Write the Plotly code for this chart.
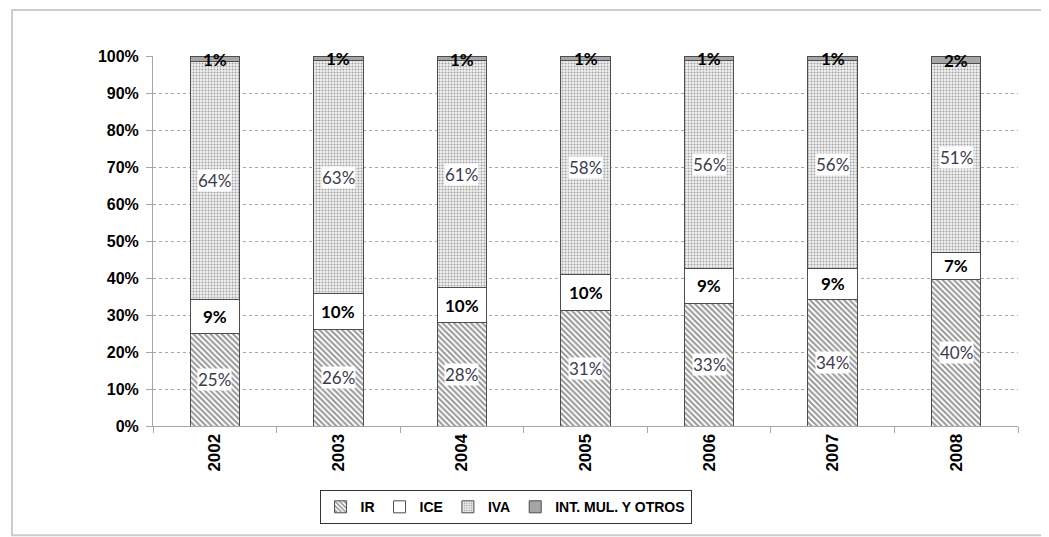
import plotly.graph_objects as go

# shares of tax revenue (%)
years = ["2002", "2003", "2004", "2005", "2006", "2007", "2008"]
ir = [24.9, 26.1, 27.9, 31.2, 33.2, 34.1, 39.6]
ice = [9.3, 9.6, 9.6, 9.7, 9.4, 8.6, 7.4]
iva = [64.4, 63.1, 61.2, 57.9, 56.2, 56.1, 51.1]
otros = [1.4, 1.2, 1.3, 1.2, 1.2, 1.2, 1.9]

names = ["IR", "ICE", "IVA", "INT. MUL. Y OTROS"]
series = [ir, ice, iva, otros]

grid = "#a6a6a6"
edge = "#4d4d4d"

fig = go.Figure()

# bars
fig.add_trace(go.Bar(x=years, y=ir, name=names[0],
                     marker=dict(color="white", line=dict(color=edge, width=1),
                                 pattern=dict(shape="\\", fgcolor="#2e2e2e", bgcolor="white",
                                              size=4, solidity=0.5))))
fig.add_trace(go.Bar(x=years, y=ice, name=names[1],
                     marker=dict(color="white", line=dict(color=edge, width=1))))
fig.add_trace(go.Bar(x=years, y=iva, name=names[2],
                     marker=dict(color="white", line=dict(color=edge, width=1),
                                 pattern=dict(shape=".", fgcolor="#555555", bgcolor="#f0f0f0",
                                              size=3, solidity=0.35))))
fig.add_trace(go.Bar(x=years, y=otros, name=names[3],
                     marker=dict(color="#a6a6a6", line=dict(color=edge, width=1))))

# labels: computed from the stacked values (x = category index)
annos = []
for i in range(len(years)):
    base = 0
    for k, vals in enumerate(series):
        v = vals[i]
        mid = base + v / 2
        txt = "%d%%" % round(v)
        if k in (0, 2):
            annos.append(dict(x=i, y=mid, text=txt, showarrow=False,
                              font=dict(family="Lato", size=17, color="#3b3b4b"),
                              bgcolor="white", borderpad=0))
        elif k == 1:
            annos.append(dict(x=i, y=mid, text=txt, showarrow=False,
                              font=dict(family="Lato", size=17, color="black", weight="bold")))
        else:
            annos.append(dict(x=i, y=base + v * 0.35, text=txt, showarrow=False,
                              font=dict(family="Lato", size=17, color="black", weight="bold")))
        base += v

fig.update_layout(
    width=1049, height=537,
    margin=dict(l=145, r=39, t=48, b=119),
    paper_bgcolor="white", plot_bgcolor="white",
    barmode="stack", bargap=0.6,
    annotations=annos,
    showlegend=True,
    legend=dict(orientation="h", traceorder="normal",
                xref="container", yref="container",
                x=0.297, xanchor="left", y=0.102, yanchor="top",
                bordercolor="#333333", borderwidth=1,
                font=dict(family="Liberation Sans", size=14, color="black", weight="bold"),
                itemwidth=30),
    xaxis=dict(type="category", range=[-0.5, len(years) - 0.5],
               showline=True, linecolor=grid, linewidth=1,
               ticks="outside", tickson="boundaries", ticklen=6, tickcolor=grid,
               tickangle=-90, showgrid=False,
               tickfont=dict(family="Liberation Sans", size=17, color="black", weight="bold")),
    yaxis=dict(range=[0, 100], dtick=10, ticksuffix="%",
               showline=True, linecolor=grid, linewidth=1,
               ticks="outside", ticklen=6, tickcolor=grid, ticklabelstandoff=4,
               showgrid=True, gridcolor=grid, griddash="3px,3px", gridwidth=1,
               zeroline=False,
               tickfont=dict(family="Liberation Sans", size=16, color="black", weight="bold")),
    shapes=[
        dict(type="rect", xref="paper", yref="paper",
             x0=-0.163, x1=1.2, y0=-0.295, y1=1.124,
             line=dict(color="#cccccc", width=2), layer="below"),
    ],
)

fig.write_html("out.html")
